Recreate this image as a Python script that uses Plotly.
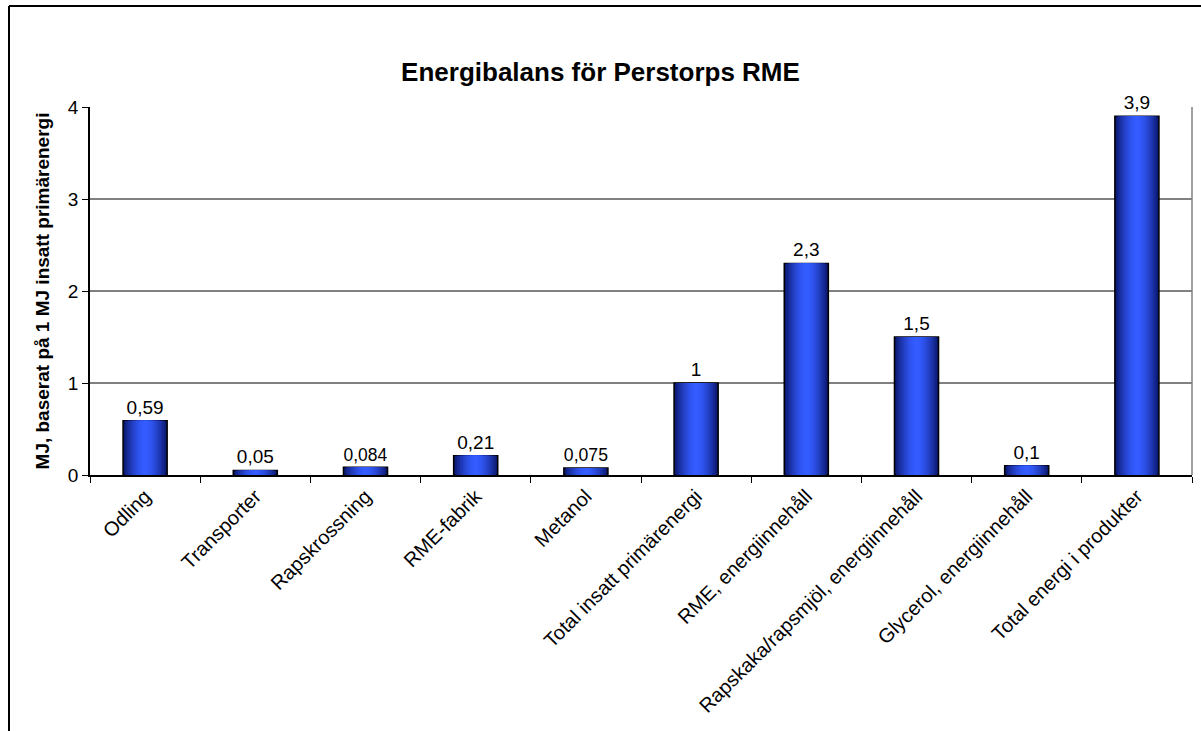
import plotly.graph_objects as go

categories = ["Odling", "Transporter", "Rapskrossning", "RME-fabrik", "Metanol",
              "Total insatt primärenergi", "RME, energiinnehåll",
              "Rapskaka/rapsmjöl, energiinnehåll", "Glycerol, energiinnehåll",
              "Total energi i produkter"]
values = [0.59, 0.05, 0.084, 0.21, 0.075, 1, 2.3, 1.5, 0.1, 3.9]
labels = [("%g" % v).replace(".", ",") for v in values]
y_ticks = [0, 1, 2, 3, 4]

W, H = 1201, 731
L, R, T, B = 90, 9, 107, 256
pw, ph = W - L - R, H - T - B

def px_x(p):
    return (p - L) / pw

def px_y(p):
    return (H - B - p) / ph

FONT = "Liberation Sans, Arial, sans-serif"

fig = go.Figure()

bar_w = 0.4
N = 14
dark = (12, 24, 110)
bright = (52, 92, 255)
for k in range(N):
    t = k / (N - 1)
    f = 1 - (1 - t) ** 1.6
    c = tuple(int(dark[i] + (bright[i] - dark[i]) * f) for i in range(3))
    w = bar_w * (1 - k / N)
    fig.add_trace(go.Bar(
        x=categories, y=values, width=w,
        marker=dict(color="rgb(%d,%d,%d)" % c,
                    line=dict(color="black", width=1.5 if k == 0 else 0)),
        text=labels if k == 0 else None,
        textposition="outside" if k == 0 else None,
        textfont=dict(family=FONT, size=19, color="black"),
        cliponaxis=False,
        hoverinfo="skip", showlegend=False,
    ))

fig.update_layout(
    width=W, height=H,
    margin=dict(l=L, r=R, t=T, b=B, pad=0),
    barmode="overlay",
    plot_bgcolor="white", paper_bgcolor="white",
    font=dict(family=FONT, color="black"),
    title=dict(text="<b>Energibalans för Perstorps RME</b>",
               x=0.5, xanchor="center", y=1 - 72 / H, yanchor="middle",
               font=dict(family=FONT, size=26, color="black")),
    showlegend=False,
)

fig.update_xaxes(
    type="category", tickangle=-45,
    tickfont=dict(family=FONT, size=20, color="black"),
    showline=True, linecolor="black", linewidth=1.5,
    ticks="outside", ticklen=6, tickcolor="black", tickson="boundaries",
    showgrid=False, range=[-0.5, 9.5],
)
fig.update_yaxes(
    range=[0, 4], tickvals=y_ticks,
    tickfont=dict(family=FONT, size=19, color="black"),
    showline=True, linecolor="black", linewidth=1.5,
    ticks="outside", ticklen=6, tickcolor="black",
    showgrid=True, gridcolor="#808080", gridwidth=1.5,
    zeroline=False,
    title=dict(text="<b>MJ, baserat på 1 MJ insatt primärenergi</b>",
               font=dict(family=FONT, size=19, color="black"), standoff=13),
)

fig.add_shape(type="line", xref="paper", yref="paper",
              x0=1, x1=1, y0=0, y1=1, line=dict(color="#808080", width=1.5))
fig.add_shape(type="line", xref="paper", yref="paper",
              x0=px_x(9), x1=px_x(W + 5), y0=px_y(6), y1=px_y(6),
              line=dict(color="black", width=2))
fig.add_shape(type="line", xref="paper", yref="paper",
              x0=px_x(9), x1=px_x(9), y0=px_y(6), y1=px_y(H + 5),
              line=dict(color="black", width=2))

fig.write_html("out.html")
